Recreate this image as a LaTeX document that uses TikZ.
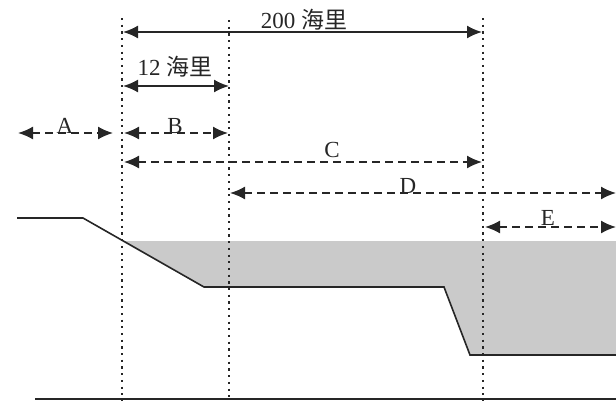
\documentclass[tikz,border=0pt]{standalone}
\usepackage{fontspec}
\setmainfont{Liberation Serif}
\newfontfamily\cjk{Noto Sans CJK SC}
\usetikzlibrary{arrows.meta}
\definecolor{ink}{HTML}{262626}
\definecolor{seabed}{HTML}{CACACA}
\tikzset{
  dimsolid/.style={draw=ink, line width=1.8pt, {Latex[length=15pt,width=13pt]}-{Latex[length=15pt,width=13pt]}},
  dimdash/.style={draw=ink, line width=1.7pt, dash pattern=on 8pt off 5pt, {Latex[length=15pt,width=13pt]}-{Latex[length=15pt,width=13pt]}},
  guide/.style={draw=ink, line width=2.8pt, dash pattern=on 2.2pt off 4.5pt},
  lbl/.style={anchor=south, inner sep=0.5pt, font=\fontsize{23}{27}\selectfont, text=ink},
  profile/.style={draw=ink, line width=1.6pt}
}
\begin{document}
\begin{tikzpicture}[x=1pt,y=-1pt]
\useasboundingbox (0,0) rectangle (616,400);
% seabed fill
\fill[seabed] (122,241) -- (616,241) -- (616,355) -- (470,355) -- (444,287) -- (204,287) -- cycle;
% profile
\coordinate (p1) at (17,218);
\coordinate (p2) at (83,218);
\coordinate (p3) at (204,287);
\coordinate (p4) at (444,287);
\coordinate (p5) at (470,355);
\coordinate (p6) at (616,355);
\draw[profile] (p1) -- (p2) -- (p3) -- (p4) -- (p5) -- (p6);
% bottom line
\coordinate (b1) at (35,399);
\coordinate (b2) at (616,399);
\draw[profile] (b1) -- (b2);
% guide lines
\coordinate (g1t) at (122,18); \coordinate (g1b) at (122,400);
\coordinate (g2t) at (229,20); \coordinate (g2b) at (229,400);
\coordinate (g3t) at (483,18); \coordinate (g3b) at (483,400);
\draw[guide] (g1t) -- (g1b);
\draw[guide] (g2t) -- (g2b);
\draw[guide] (g3t) -- (g3b);
% 200 nm
\coordinate (t1) at (123,32); \coordinate (t2) at (482,32);
\draw[dimsolid] (t1) -- (t2);
\node[lbl] (t200) at (304,31) {200 {\cjk 海里}};
% 12 nm
\coordinate (s1) at (123,86); \coordinate (s2) at (229,86);
\draw[dimsolid] (s1) -- (s2);
\node[lbl] (t12) at (175,78) {12 {\cjk 海里}};
% A
\coordinate (a1) at (18,133); \coordinate (a2) at (113,133);
\draw[dimdash] (a1) -- (a2);
\node[lbl] (la) at (65,134) {A};
% B
\coordinate (bb1) at (124,133); \coordinate (bb2) at (228,133);
\draw[dimdash] (bb1) -- (bb2);
\node[lbl] (lb) at (175,134) {B};
% C
\coordinate (c1) at (124,162); \coordinate (c2) at (482,162);
\draw[dimdash] (c1) -- (c2);
\node[lbl] (lc) at (332,158) {C};
% D
\coordinate (d1) at (230,193); \coordinate (d2) at (616,193);
\draw[dimdash] (d1) -- (d2);
\node[lbl] (ld) at (408,194) {D};
% E
\coordinate (e1) at (485,227); \coordinate (e2) at (616,227);
\draw[dimdash] (e1) -- (e2);
\node[lbl] (le) at (548,226) {E};
\end{tikzpicture}
\end{document}
